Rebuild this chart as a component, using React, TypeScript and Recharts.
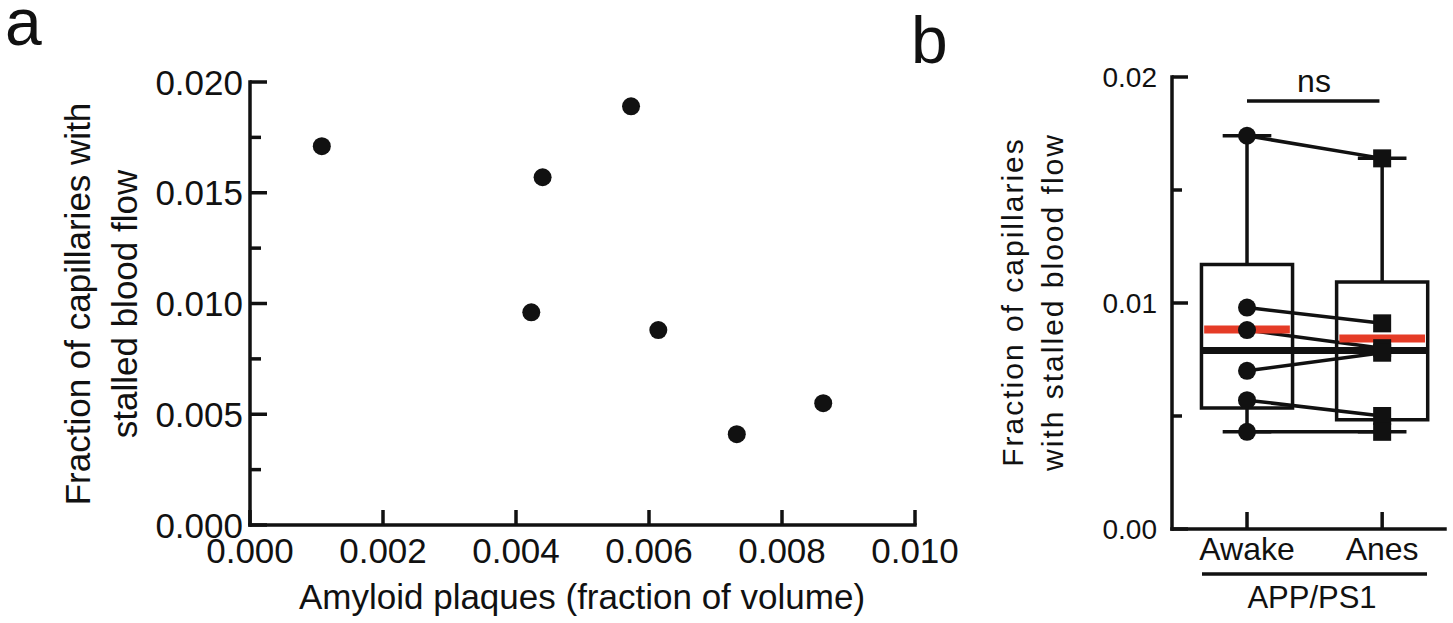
import React from 'react';
import {
  ComposedChart,
  Line,
  ReferenceArea,
  ReferenceLine,
  Scatter,
  ScatterChart,
  XAxis,
  YAxis,
} from 'recharts';

const FONT = '"Liberation Sans", Arial, Helvetica, sans-serif';
const INK = '#111';
const RED = '#e53b26';
const AXIS_W = 3.5;

// panel a: plaque load vs stalled capillaries (one dot per mouse)
const plaqueFraction = [0.00108, 0.0044, 0.00573, 0.00423, 0.00614, 0.00732, 0.00862];
const stalledFraction = [0.0171, 0.0157, 0.0189, 0.0096, 0.0088, 0.0041, 0.0055];
const aXTicks = [0, 0.002, 0.004, 0.006, 0.008, 0.01];
const aYTicks = [0, 0.0025, 0.005, 0.0075, 0.01, 0.0125, 0.015, 0.0175, 0.02];
const aYLabeled = [0, 0.005, 0.01, 0.015, 0.02];

// panel b: same mice awake vs anesthetized
const conditions = ['Awake', 'Anes'];
const awakeStalled = [0.0174, 0.0098, 0.0088, 0.007, 0.0057, 0.0043];
const anesStalled = [0.0164, 0.0091, 0.008, 0.0078, 0.005, 0.0043];
const boxQ1 = [0.00535, 0.00483];
const boxQ3 = [0.0117, 0.01093];
const boxMedian = [0.0079, 0.0079];
const boxMean = [0.00883, 0.00843];
const whiskerMin = [0.0043, 0.0043];
const whiskerMax = [0.0174, 0.0164];
const bYTicks = [0, 0.005, 0.01, 0.015, 0.02];
const bYLabeled = [0, 0.01, 0.02];
const nsLevel = 0.01894;

const BOX_HALF = 0.337;
const CAP_HALF = 0.18;

const scatterData = plaqueFraction.map((x, i) => ({ x, y: stalledFraction[i] }));
const awakeData = awakeStalled.map((y) => ({ x: 1, y }));
const anesData = anesStalled.map((y) => ({ x: 2, y }));
const pairs = awakeStalled.map((a, i) => [
  { x: 1, y: a },
  { x: 2, y: anesStalled[i] },
]);

const isIn = (list: number[], v: number) => list.some((t) => Math.abs(t - v) < 1e-9);

function LeftTick(props: any) {
  const { x, y, payload, labeled, fmt, major, minor, fontSize, gap } = props;
  const big = isIn(labeled, payload.value);
  return (
    <g>
      <line x1={x} x2={x + (big ? major : minor)} y1={y} y2={y} stroke={INK} strokeWidth={AXIS_W} />
      {big && (
        <text
          x={x - gap}
          y={y}
          dy={fontSize * 0.36}
          textAnchor="end"
          fontSize={fontSize}
          fontFamily={FONT}
          fill={INK}
        >
          {fmt(payload.value)}
        </text>
      )}
    </g>
  );
}

function BottomTick(props: any) {
  const { x, y, payload, len, fontSize, dy, fmt } = props;
  return (
    <g>
      <line x1={x} x2={x} y1={y} y2={y - len} stroke={INK} strokeWidth={AXIS_W} />
      <text x={x} y={y + dy} textAnchor="middle" fontSize={fontSize} fontFamily={FONT} fill={INK}>
        {fmt(payload.value)}
      </text>
    </g>
  );
}

const axisLine = { stroke: INK, strokeWidth: AXIS_W, strokeLinecap: 'square' as const };

function PanelA() {
  return (
    <ScatterChart width={1000} height={623} margin={{ top: 82, right: 85, bottom: 0, left: 0 }}>
      <XAxis
        type="number"
        dataKey="x"
        domain={[0, 0.01]}
        ticks={aXTicks}
        interval={0}
        height={98}
        tickSize={0}
        tickMargin={0}
        tickLine={false}
        axisLine={axisLine}
        tick={(p: any) => (
          <BottomTick {...p} len={15} fontSize={35} dy={38} fmt={(v: number) => v.toFixed(3)} />
        )}
      />
      <YAxis
        type="number"
        dataKey="y"
        domain={[0, 0.02]}
        ticks={aYTicks}
        interval={0}
        width={250}
        tickSize={0}
        tickMargin={0}
        tickLine={false}
        axisLine={axisLine}
        tick={(p: any) => (
          <LeftTick
            {...p}
            labeled={aYLabeled}
            major={17}
            minor={11}
            fontSize={35}
            gap={7}
            fmt={(v: number) => v.toFixed(3)}
          />
        )}
      />
      <Scatter
        data={scatterData}
        isAnimationActive={false}
        shape={(p: any) => <circle cx={p.cx} cy={p.cy} r={9} fill={INK} />}
      />
    </ScatterChart>
  );
}

function PanelB() {
  return (
    <ComposedChart width={513} height={623} margin={{ top: 77, right: 8, bottom: 0, left: 0 }}>
      <XAxis
        type="number"
        dataKey="x"
        domain={[0.445, 2.465]}
        allowDataOverflow
        ticks={[1, 2]}
        interval={0}
        height={94}
        tickSize={0}
        tickMargin={0}
        tickLine={false}
        axisLine={axisLine}
        tick={(p: any) => (
          <BottomTick {...p} len={17} fontSize={32} dy={31} fmt={(v: number) => conditions[v - 1]} />
        )}
      />
      <YAxis
        type="number"
        dataKey="y"
        domain={[0, 0.02]}
        ticks={bYTicks}
        interval={0}
        width={232}
        tickSize={0}
        tickMargin={0}
        tickLine={false}
        axisLine={axisLine}
        tick={(p: any) => (
          <LeftTick
            {...p}
            labeled={bYLabeled}
            major={16}
            minor={10}
            fontSize={28}
            gap={15}
            fmt={(v: number) => v.toFixed(2)}
          />
        )}
      />
      {conditions.map((c, i) => (
        <ReferenceArea
          key={`box-${c}`}
          x1={i + 1 - BOX_HALF}
          x2={i + 1 + BOX_HALF}
          y1={boxQ1[i]}
          y2={boxQ3[i]}
          fill="#fff"
          fillOpacity={0}
          stroke={INK}
          strokeWidth={AXIS_W}
        />
      ))}
      {conditions.map((c, i) => (
        <ReferenceLine
          key={`wh-hi-${c}`}
          segment={[
            { x: i + 1, y: boxQ3[i] },
            { x: i + 1, y: whiskerMax[i] },
          ]}
          stroke={INK}
          strokeWidth={AXIS_W}
        />
      ))}
      {conditions.map((c, i) => (
        <ReferenceLine
          key={`wh-lo-${c}`}
          segment={[
            { x: i + 1, y: boxQ1[i] },
            { x: i + 1, y: whiskerMin[i] },
          ]}
          stroke={INK}
          strokeWidth={AXIS_W}
        />
      ))}
      {conditions.map((c, i) => (
        <ReferenceLine
          key={`cap-hi-${c}`}
          segment={[
            { x: i + 1 - CAP_HALF, y: whiskerMax[i] },
            { x: i + 1 + CAP_HALF, y: whiskerMax[i] },
          ]}
          stroke={INK}
          strokeWidth={AXIS_W}
        />
      ))}
      {conditions.map((c, i) => (
        <ReferenceLine
          key={`cap-lo-${c}`}
          segment={[
            { x: i + 1 - CAP_HALF, y: whiskerMin[i] },
            { x: i + 1 + CAP_HALF, y: whiskerMin[i] },
          ]}
          stroke={INK}
          strokeWidth={AXIS_W}
        />
      ))}
      <ReferenceLine
        segment={[
          { x: 1.0, y: nsLevel },
          { x: 1.98, y: nsLevel },
        ]}
        stroke={INK}
        strokeWidth={AXIS_W}
      />
      {pairs.map((d, i) => (
        <Line
          key={`pair-${i}`}
          data={d}
          dataKey="y"
          stroke={INK}
          strokeWidth={AXIS_W}
          dot={false}
          activeDot={false}
          isAnimationActive={false}
        />
      ))}
      <Scatter
        data={awakeData}
        isAnimationActive={false}
        shape={(p: any) => <circle cx={p.cx} cy={p.cy} r={9} fill={INK} />}
      />
      <Scatter
        data={anesData}
        isAnimationActive={false}
        shape={(p: any) => <rect x={p.cx - 9} y={p.cy - 9} width={18} height={18} fill={INK} />}
      />
      {/* both medians sit at the same level, drawn as one band across the boxes */}
      <ReferenceLine
        segment={[
          { x: 1 - BOX_HALF, y: boxMedian[0] },
          { x: 2 + BOX_HALF, y: boxMedian[1] },
        ]}
        stroke={INK}
        strokeWidth={7}
      />
      {conditions.map((c, i) => (
        <ReferenceLine
          key={`mean-${c}`}
          segment={[
            { x: i + 1 - BOX_HALF + 0.02, y: boxMean[i] },
            { x: i + 1 + BOX_HALF - 0.02, y: boxMean[i] },
          ]}
          stroke={RED}
          strokeWidth={8}
        />
      ))}
    </ComposedChart>
  );
}

export default function App() {
  const txt = { fontFamily: FONT, fill: INK } as const;
  return (
    <div style={{ position: 'absolute', left: 0, top: 0, width: 1453, height: 623, background: '#fff' }}>
      <div style={{ position: 'absolute', left: 0, top: 0 }}>
        <PanelA />
      </div>
      <div style={{ position: 'absolute', left: 940, top: 0 }}>
        <PanelB />
      </div>
      <svg
        width={1453}
        height={623}
        style={{ position: 'absolute', left: 0, top: 0, pointerEvents: 'none' }}
      >
        <text x={5} y={45} fontSize={66} {...txt}>a</text>
        <text x={911} y={63} fontSize={66} {...txt}>b</text>

        <text transform="translate(90,304) rotate(-90)" textAnchor="middle" fontSize={35} {...txt}>
          Fraction of capillaries with
        </text>
        <text transform="translate(137,304) rotate(-90)" textAnchor="middle" fontSize={35} {...txt}>
          stalled blood flow
        </text>
        <text x={582} y={609} textAnchor="middle" fontSize={35} {...txt}>
          Amyloid plaques (fraction of volume)
        </text>

        <text
          transform="translate(1023,302) rotate(-90)"
          textAnchor="middle"
          fontSize={30}
          letterSpacing={2}
          {...txt}
        >
          Fraction of capillaries
        </text>
        <text
          transform="translate(1063,302) rotate(-90)"
          textAnchor="middle"
          fontSize={30}
          letterSpacing={2}
          {...txt}
        >
          with stalled blood flow
        </text>
        <text x={1314} y={92} textAnchor="middle" fontSize={32} {...txt}>ns</text>
        <line x1={1202} x2={1427} y1={574} y2={574} stroke={INK} strokeWidth={AXIS_W} />
        <text x={1312} y={608} textAnchor="middle" fontSize={31} {...txt}>APP/PS1</text>
      </svg>
    </div>
  );
}
